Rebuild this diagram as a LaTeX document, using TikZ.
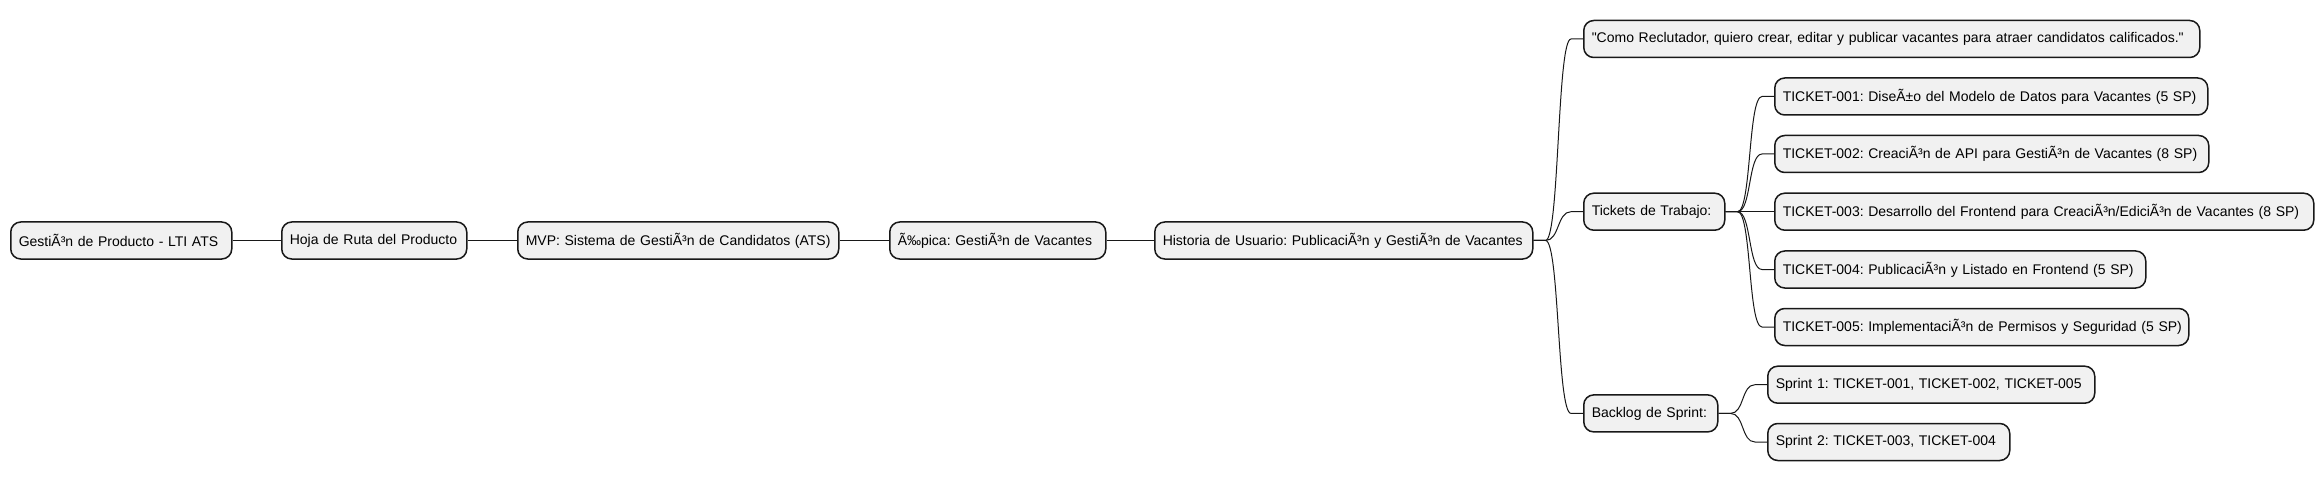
\documentclass[tikz,border=0pt]{standalone}
\usepackage{fontspec}
\newfontfamily\mapfont{Liberation Sans}
\usepackage{tikz}
\definecolor{boxfill}{HTML}{F1F1F1}
\definecolor{boxline}{HTML}{181818}
\frenchspacing

\begin{document}
\begin{tikzpicture}[x=1pt,y=-1pt,
	topic/.style={draw=boxline,fill=boxfill,line width=1.5pt,rounded corners=10pt,anchor=west,
		text width=#1,align=left,minimum height=37pt,inner xsep=8pt,inner ysep=0pt,
		font=\mapfont\fontsize{14}{16}\selectfont},
	link/.style={draw=boxline,line width=1pt}]
	\useasboundingbox (0,0) rectangle (2324,481);
	\node[topic=205pt] (gestion) at (10,240.5) {GestiÃ³n de Producto - LTI ATS};
	\node[topic=169pt] (hoja) at (281,240.5) {Hoja de Ruta del Producto};
	\node[topic=305pt] (mvp) at (517,240.5) {MVP: Sistema de GestiÃ³n de Candidatos (ATS)};
	\node[topic=200pt] (epica) at (889,240.5) {Ã‰pica: GestiÃ³n de Vacantes};
	\node[topic=362pt] (historia) at (1154,240.5) {Historia de Usuario: PublicaciÃ³n y GestiÃ³n de Vacantes};
	\node[topic=600pt] (quote) at (1583,39) {"Como Reclutador, quiero crear, editar y publicar vacantes para atraer candidatos calificados."};
	\node[topic=125pt] (tickets) at (1583,211.7) {Tickets de Trabajo:};
	\node[topic=118pt] (backlog) at (1583,413.4) {Backlog de Sprint:};
	\node[topic=417pt] (t1) at (1774,96.5) {TICKET-001: DiseÃ±o del Modelo de Datos para Vacantes (5 SP)};
	\node[topic=418pt] (t2) at (1774,154) {TICKET-002: CreaciÃ³n de API para GestiÃ³n de Vacantes (8 SP)};
	\node[topic=523pt] (t3) at (1774,211.7) {TICKET-003: Desarrollo del Frontend para CreaciÃ³n/EdiciÃ³n de Vacantes (8 SP)};
	\node[topic=355pt] (t4) at (1774,269.5) {TICKET-004: PublicaciÃ³n y Listado en Frontend (5 SP)};
	\node[topic=398pt] (t5) at (1774,327) {\mbox{TICKET-005: ImplementaciÃ³n de Permisos y Seguridad (5 SP)}};
	\node[topic=311pt] (s1) at (1767,384.7) {Sprint 1: TICKET-001, TICKET-002, TICKET-005};
	\node[topic=226pt] (s2) at (1767,442) {Sprint 2: TICKET-003, TICKET-004};
	\draw[link] (gestion.east) -- (hoja.west);
	\draw[link] (hoja.east) -- (mvp.west);
	\draw[link] (mvp.east) -- (epica.west);
	\draw[link] (epica.east) -- (historia.west);
	\foreach \c in {quote,tickets,backlog}
		\draw[link] (historia.east) -- ++(12,0) .. controls +(14,0) and ([xshift=-26pt]\c.west) .. ([xshift=-12pt]\c.west) -- (\c.west);
	\foreach \c in {t1,t2,t3,t4,t5}
		\draw[link] (tickets.east) -- ++(12,0) .. controls +(14,0) and ([xshift=-26pt]\c.west) .. ([xshift=-12pt]\c.west) -- (\c.west);
	\foreach \c in {s1,s2}
		\draw[link] (backlog.east) -- ++(12,0) .. controls +(14,0) and ([xshift=-26pt]\c.west) .. ([xshift=-12pt]\c.west) -- (\c.west);
\end{tikzpicture}
\end{document}
